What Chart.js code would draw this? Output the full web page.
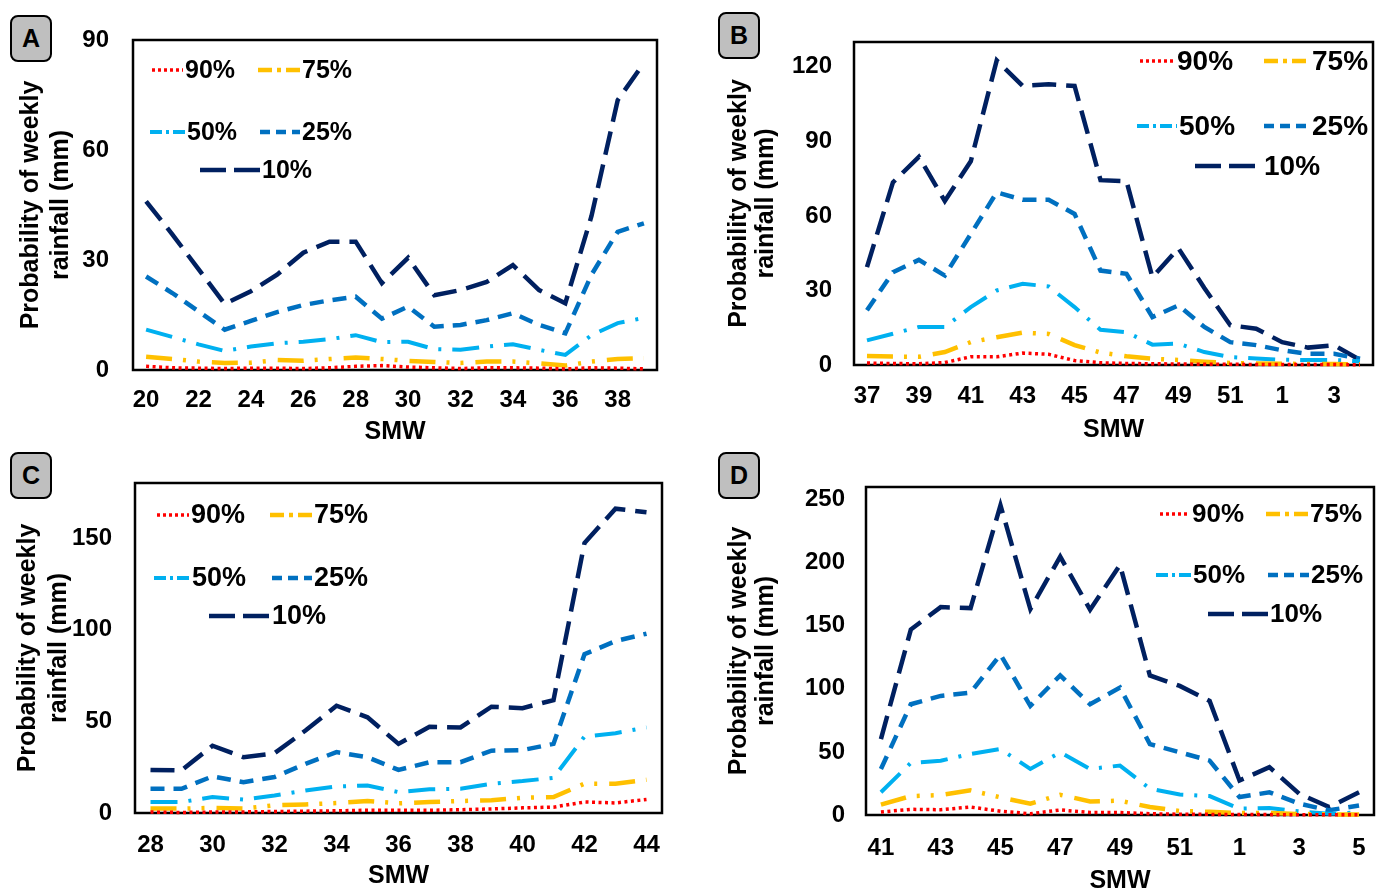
<!DOCTYPE html>
<html>
<head>
<meta charset="utf-8">
<title>Probability of weekly rainfall</title>
<script src="https://cdn.jsdelivr.net/npm/chart.js@4.4.0/dist/chart.umd.min.js"></script>
<style>
    html, body { margin: 0; padding: 0; background: #fff; overflow: hidden; }
    #page { position: relative; width: 1385px; height: 889px; }
    canvas { position: absolute; }
    .tag {
        position: absolute;
        width: 38px; height: 43px;
        border: 2px solid #000; border-radius: 8px;
        background: #bfbfbf;
        font: bold 25px 'Liberation Sans', Arial, sans-serif;
        display: flex; align-items: center; justify-content: center;
    }
</style>
</head>
<body>
<div id="page">
    <div class="tag" style="left:10px;top:15px">A</div>
    <div class="tag" style="left:718px;top:12px">B</div>
    <div class="tag" style="left:10px;top:452px">C</div>
    <div class="tag" style="left:718px;top:452px">D</div>
    <canvas id="chart-a" width="692" height="445" style="left:0;top:0"></canvas>
    <canvas id="chart-b" width="693" height="445" style="left:692px;top:0"></canvas>
    <canvas id="chart-c" width="692" height="444" style="left:0;top:445px"></canvas>
    <canvas id="chart-d" width="693" height="444" style="left:692px;top:445px"></canvas>
</div>
<script>
// 数据 (SMW = standard meteorological week)
const seriesNames = ['90%', '75%', '50%', '25%', '10%'];

const weeksA = ['20','21','22','23','24','25','26','27','28','29','30','31','32','33','34','35','36','37','38','39'];
const a90 = [1.0, 0.6, 0.5, 0.4, 0.5, 0.5, 0.4, 0.6, 1.0, 1.2, 0.8, 0.6, 0.4, 0.6, 0.6, 0.5, 0.3, 0.6, 0.5, 0.3];
const a75 = [3.6, 3.0, 2.3, 1.9, 2.0, 2.7, 2.5, 3.0, 3.4, 3.0, 2.5, 2.2, 1.9, 2.3, 2.3, 1.8, 1.2, 2.3, 3.0, 3.2];
const a50 = [11.0, 9.0, 7.0, 5.2, 6.4, 7.3, 7.7, 8.4, 9.5, 7.6, 7.7, 5.7, 5.5, 6.4, 7.0, 5.5, 4.1, 9.5, 12.8, 14.2];
const a25 = [25.5, 21.0, 16.0, 11.0, 13.4, 15.8, 17.7, 19.0, 20.0, 14.0, 17.3, 11.8, 12.3, 13.6, 15.5, 12.3, 10.0, 26.0, 37.7, 40.0];
const a10 = [46.0, 37.0, 27.5, 18.0, 21.5, 26.0, 32.0, 35.0, 35.0, 23.7, 30.6, 20.4, 21.8, 24.0, 28.6, 21.8, 18.2, 42.0, 73.6, 83.7];

const weeksB = ['37','38','39','40','41','42','43','44','45','46','47','48','49','50','51','52','1','2','3','4'];
const b90 = [0.8, 0.6, 0.5, 1.0, 3.3, 3.3, 4.8, 4.3, 1.8, 0.9, 0.6, 0.5, 0.4, 0.3, 0.3, 0.2, 0.2, 0.2, 0.2, 0.1];
const b75 = [3.6, 3.4, 3.3, 5.2, 9.2, 11.2, 13.0, 12.5, 8.0, 5.0, 3.5, 2.5, 2.0, 1.3, 0.8, 0.6, 0.5, 0.4, 0.4, 0.3];
const b50 = [9.9, 12.6, 15.3, 15.3, 23.3, 30.0, 32.7, 31.6, 23.3, 14.2, 13.2, 8.2, 8.6, 5.2, 3.2, 2.6, 2.1, 2.0, 2.0, 1.5];
const b25 = [22.0, 37.3, 42.3, 36.0, 52.7, 69.5, 66.5, 66.5, 60.8, 38.0, 36.7, 19.3, 24.0, 15.3, 9.2, 8.0, 5.9, 4.5, 4.5, 2.5];
const b10 = [39.4, 73.5, 83.8, 66.0, 82.0, 122.6, 112.3, 113.0, 112.3, 74.4, 74.0, 35.3, 47.0, 31.0, 16.0, 14.6, 9.2, 7.0, 8.0, 2.0];

const weeksC = ['28','29','30','31','32','33','34','35','36','37','38','39','40','41','42','43','44'];
const c90 = [0.5, 0.3, 0.5, 0.6, 0.8, 1.0, 1.2, 1.5, 1.5, 1.5, 1.8, 2.2, 2.8, 3.2, 6.0, 5.5, 7.4];
const c75 = [2.4, 2.4, 2.8, 2.4, 4.2, 4.7, 5.4, 6.5, 5.3, 6.0, 6.5, 7.0, 8.3, 8.7, 16.0, 16.0, 18.1];
const c50 = [6.0, 6.0, 8.7, 7.3, 9.6, 12.3, 14.5, 15.0, 11.4, 12.9, 13.2, 16.0, 17.4, 19.2, 41.7, 43.5, 46.7];
const c25 = [13.2, 13.2, 20.0, 16.8, 19.6, 26.8, 33.2, 30.4, 23.5, 27.7, 27.7, 34.0, 34.3, 37.7, 86.6, 93.8, 97.8];
const c10 = [23.5, 23.2, 36.7, 30.4, 32.6, 45.0, 58.5, 52.2, 37.7, 47.0, 46.7, 58.0, 57.2, 61.6, 147.3, 166.0, 164.0];

const weeksD = ['41','42','43','44','45','46','47','48','49','50','51','52','1','2','3','4','5'];
const d90 = [2.4, 4.5, 4.2, 6.3, 3.0, 1.0, 4.0, 2.0, 2.0, 1.0, 0.6, 0.5, 0.3, 0.3, 0.2, 0.1, 0.1];
const d75 = [8.2, 15.0, 15.8, 19.5, 14.0, 9.0, 16.0, 10.8, 11.3, 6.3, 3.2, 2.5, 1.6, 1.6, 0.8, 0.5, 0.3];
const d50 = [18.0, 41.3, 43.0, 48.4, 52.3, 36.5, 49.7, 36.5, 39.2, 20.8, 16.3, 15.0, 5.0, 5.5, 2.9, 1.0, 2.0];
const d25 = [36.5, 87.8, 94.4, 97.0, 127.2, 86.5, 110.7, 87.8, 101.0, 56.2, 49.7, 43.1, 14.2, 18.0, 9.0, 3.7, 7.6];
const d10 = [60.2, 147.0, 164.8, 164.0, 245.5, 163.2, 204.8, 162.7, 198.2, 110.6, 102.3, 90.4, 27.4, 37.9, 16.8, 6.3, 18.0];

// 线条样式
const lineStyles = [
    { color: '#ff0000', width: 3.5, dash: [3, 3.5], legendDash: [3, 3] },
    { color: '#ffc000', width: 4.5, dash: [26, 11, 3, 11, 3, 12], legendDash: [14, 5, 4, 5] },
    { color: '#00b0f0', width: 4, dash: [27, 11, 3, 11], legendDash: [12, 4, 3, 4] },
    { color: '#0070c0', width: 4.5, dash: [14, 9], legendDash: [10, 6] },
    { color: '#002060', width: 4.5, dash: [24, 10], legendDash: [26, 8] }
];

const FONT = "'Liberation Sans', Arial, sans-serif";

// 绘图区边框
const boxBorder = {
    id: 'boxBorder',
    beforeDatasetsDraw(chart) {
        const { ctx, chartArea: a } = chart;
        ctx.save();
        ctx.strokeStyle = '#000';
        ctx.lineWidth = 2.5;
        ctx.strokeRect(a.left, a.top, a.right - a.left, a.bottom - a.top);
        ctx.restore();
    }
};

// 图内图例
const insideLegend = {
    id: 'insideLegend',
    afterDraw(chart, args, opts) {
        const ctx = chart.ctx;
        ctx.save();
        ctx.font = `bold ${opts.fontSize}px ${FONT}`;
        ctx.textBaseline = 'middle';
        ctx.fillStyle = '#000';
        chart.data.datasets.forEach((ds, i) => {
            const it = opts.items[i];
            const st = lineStyles[i];
            ctx.beginPath();
            ctx.strokeStyle = st.color;
            ctx.lineWidth = st.width;
            ctx.setLineDash(st.legendDash);
            ctx.moveTo(it[0], it[2]);
            ctx.lineTo(it[1], it[2]);
            ctx.stroke();
            ctx.fillText(ds.label, it[1] + 2, it[2] + 1);
        });
        ctx.restore();
    }
};

function buildDatasets(series) {
    return series.map((values, i) => ({
        label: seriesNames[i],
        data: values,
        borderColor: lineStyles[i].color,
        borderWidth: lineStyles[i].width,
        borderDash: lineStyles[i].dash,
        borderCapStyle: 'butt',
        pointRadius: 0,
        tension: 0,
        fill: false,
        clip: 6
    }));
}

function makeChart(id, weeks, series, c) {
    const ctx = document.getElementById(id).getContext('2d');
    return new Chart(ctx, {
        type: 'line',
        data: { labels: weeks, datasets: buildDatasets(series) },
        options: {
            responsive: false,
            animation: false,
            events: [],
            layout: { padding: { left: 0, top: c.top, right: c.right, bottom: 0 } },
            plugins: {
                legend: { display: false },
                tooltip: { enabled: false },
                insideLegend: { fontSize: c.legendSize, items: c.legend }
            },
            scales: {
                x: {
                    type: 'category',
                    offset: true,
                    grid: { display: false, drawTicks: false },
                    border: { display: false },
                    ticks: {
                        autoSkip: false,
                        maxRotation: 0,
                        minRotation: 0,
                        padding: c.xPad,
                        color: '#000',
                        font: { family: FONT, size: 24, weight: 'bold' },
                        callback: function (val, idx) {
                            return idx % 2 === 0 ? this.getLabelForValue(val) : '';
                        }
                    },
                    title: {
                        display: true,
                        text: 'SMW',
                        color: '#000',
                        font: { family: FONT, size: 25, weight: 'bold', lineHeight: 1.2 },
                        padding: { top: 0, bottom: c.smwPad }
                    },
                    afterFit: (scale) => { scale.height = c.xHeight; }
                },
                y: {
                    min: 0,
                    max: c.max,
                    grid: { display: false, drawTicks: false },
                    border: { display: false },
                    ticks: {
                        stepSize: c.step,
                        padding: c.yPad,
                        color: '#000',
                        font: { family: FONT, size: 24, weight: 'bold' }
                    },
                    afterBuildTicks: (scale) => {
                        const ticks = [];
                        for (let v = 0; v <= c.max; v += c.step) ticks.push({ value: v });
                        scale.ticks = ticks;
                    },
                    title: {
                        display: true,
                        text: ['Probability of weekly', 'rainfall (mm)'],
                        color: '#000',
                        font: { family: FONT, size: 25, weight: 'bold', lineHeight: c.titleLh },
                        padding: { top: c.titlePad, bottom: 0 }
                    },
                    afterFit: (scale) => { scale.width = c.yWidth; }
                }
            }
        },
        plugins: [boxBorder, insideLegend]
    });
}

document.addEventListener('DOMContentLoaded', () => {
    makeChart('chart-a', weeksA, [a90, a75, a50, a25, a10], {
        top: 40, right: 35, yWidth: 133, xHeight: 75, max: 90, step: 30,
        xPad: 16, yPad: 24, smwPad: -2, titleLh: 1.2, titlePad: 16,
        legendSize: 25,
        legend: [[152, 183, 70], [258, 300, 70], [150, 185, 132], [260, 300, 132], [200, 260, 170]]
    });
    makeChart('chart-b', weeksB, [b90, b75, b50, b25, b10], {
        top: 42, right: 12, yWidth: 162, xHeight: 80, max: 130, step: 30,
        xPad: 17, yPad: 22, smwPad: 0, titleLh: 1.08, titlePad: 34,
        legendSize: 28,
        legend: [[448, 483, 61], [572, 618, 61], [445, 485, 126], [572, 618, 126], [503, 570, 166]]
    });
    makeChart('chart-c', weeksC, [c90, c75, c50, c25, c10], {
        top: 38, right: 30, yWidth: 135, xHeight: 76, max: 180, step: 50,
        xPad: 18, yPad: 23, smwPad: -2, titleLh: 1.22, titlePad: 13,
        legendSize: 27,
        legend: [[157, 189, 70], [270, 312, 70], [154, 190, 133], [272, 312, 133], [209, 270, 171]]
    });
    makeChart('chart-d', weeksD, [d90, d75, d50, d25, d10], {
        top: 42, right: 10, yWidth: 174, xHeight: 74, max: 260, step: 50,
        xPad: 19, yPad: 21, smwPad: -7, titleLh: 1.08, titlePad: 34,
        legendSize: 26,
        legend: [[468, 498, 69], [574, 616, 69], [464, 499, 130], [576, 617, 130], [516, 576, 169]]
    });
});
</script>
</body>
</html>
